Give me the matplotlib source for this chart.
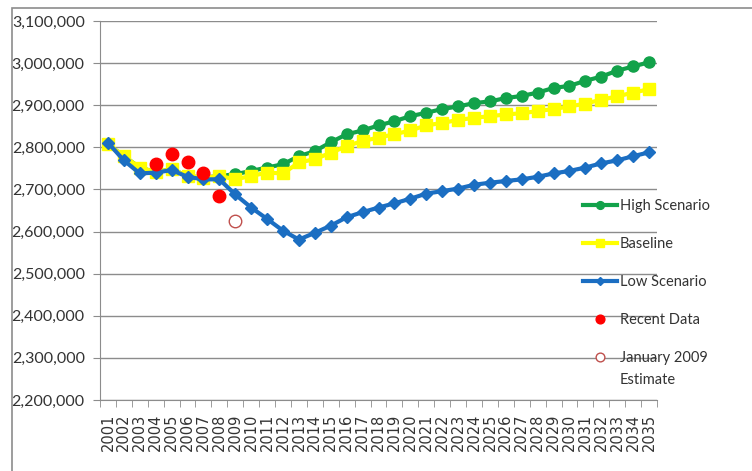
import matplotlib.pyplot as plt
from matplotlib.patches import Rectangle
from matplotlib.ticker import FuncFormatter, FixedLocator

plt.rcParams['font.family'] = ['Lato', 'DejaVu Sans']

anos = [str(a) for a in range(2001, 2036)]

alto = [2807000, 2779000, 2752000, 2741000, 2748000, 2732000, 2728000, 2732000,
        2736000, 2744000, 2752000, 2760000, 2779000, 2791000, 2812000, 2831000,
        2840000, 2852000, 2862000, 2874000, 2882000, 2891000, 2897000, 2905000,
        2909000, 2917000, 2922000, 2930000, 2941000, 2946000, 2958000, 2968000,
        2982000, 2992000, 3002000]

base = [2807000, 2779000, 2752000, 2741000, 2748000, 2732000, 2728000, 2732000,
        2724000, 2732000, 2740000, 2738000, 2764000, 2772000, 2787000, 2803000,
        2815000, 2823000, 2831000, 2840000, 2852000, 2858000, 2865000, 2870000,
        2874000, 2878000, 2881000, 2886000, 2891000, 2897000, 2904000, 2913000,
        2921000, 2930000, 2938000]

baixo = [2811000, 2769000, 2738000, 2740000, 2746000, 2730000, 2724000, 2724000,
         2688000, 2657000, 2630000, 2602000, 2581000, 2597000, 2614000, 2634000,
         2646000, 2657000, 2667000, 2678000, 2690000, 2696000, 2702000, 2711000,
         2716000, 2720000, 2724000, 2730000, 2738000, 2744000, 2752000, 2762000,
         2769000, 2779000, 2788000]

recentes_anos = ["2004", "2005", "2006", "2007", "2008"]
recentes = [2760000, 2783000, 2764000, 2740000, 2685000]

estimativa_ano = ["2009"]
estimativa = [2624000]

fig = plt.figure(figsize=(7.52, 4.71), dpi=100)
ax = fig.add_axes([100 / 752, 1 - 400 / 471, 557 / 752, 379 / 471])

fig.patches.append(Rectangle((12 / 752, -0.1), 1.2, 1 - 8 / 471 + 0.1,
                             transform=fig.transFigure, fill=False,
                             edgecolor='#8c8c8c', linewidth=1.2))

x = list(range(len(anos)))
ax.plot(x, alto, color='#12A24A', marker='o', markersize=8, linewidth=3,
        label='High Scenario', zorder=3)
ax.plot(x, base, color='#FFFF00', marker='s', markersize=9, linewidth=3,
        label='Baseline', zorder=4)
ax.plot(x, baixo, color='#1B6EC2', marker='D', markersize=6.5, linewidth=3,
        label='Low Scenario', zorder=5)
xr = [anos.index(a) for a in recentes_anos]
ax.plot(xr, recentes, linestyle='none', marker='o', markersize=9,
        color='#FF0000', label='Recent Data', zorder=6)
xe = [anos.index(a) for a in estimativa_ano]
ax.plot(xe, estimativa, linestyle='none', marker='o', markersize=9,
        markerfacecolor='white', markeredgecolor='#C0504D', markeredgewidth=1,
        label='January 2009', zorder=6)

ax.set_xlim(-0.5, len(anos) - 0.5)
ax.set_ylim(2200000, 3100000)
ax.set_yticks(range(2200000, 3100001, 100000))
ax.yaxis.set_major_formatter(FuncFormatter(lambda v, p: f"{int(v):,}"))
ax.grid(axis='y', color='#8c8c8c', linewidth=1)
ax.set_axisbelow(True)

ax.set_xticks(x)
ax.set_xticklabels(anos, rotation=90, fontsize=10.5, fontfamily='DejaVu Sans',
                   color='#333333')
ax.xaxis.set_minor_locator(FixedLocator([i - 0.5 for i in range(len(anos) + 1)]))
ax.tick_params(axis='x', which='major', length=0, pad=10)
ax.tick_params(axis='x', which='minor', length=5, color='#8c8c8c')
ax.tick_params(axis='y', length=5, color='#8c8c8c', labelsize=11.5,
               labelcolor='#333333', pad=6)

for lado in ['top', 'right']:
    ax.spines[lado].set_visible(False)
for lado in ['left', 'bottom']:
    ax.spines[lado].set_color('#8c8c8c')

leg = ax.legend(loc='upper left', bbox_to_anchor=(477 / 557, 1 - 172 / 379),
                frameon=False, fontsize=10.5, labelspacing=1.65,
                handlelength=2.33, handletextpad=0.2, borderaxespad=0,
                markerscale=0.7)
for t in leg.get_texts():
    t.set_color('#333333')

# segunda linha do rótulo da estimativa
fig.canvas.draw()
ult = leg.get_texts()[-1].get_window_extent()
fig.text(ult.x0 / 752, (ult.y0 - 22) / 471, 'Estimate', fontsize=10.5,
         color='#333333', ha='left', va='bottom')

fig.savefig('out.png', dpi=100)
